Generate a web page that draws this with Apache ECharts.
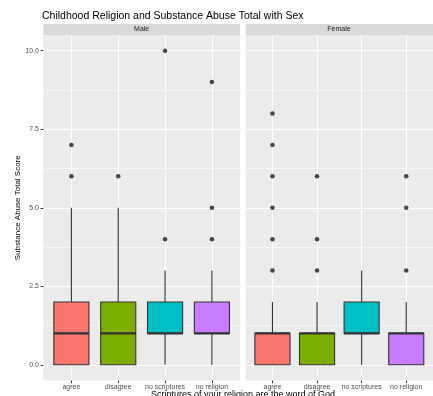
<!DOCTYPE html>
<html><head><meta charset="utf-8">
<script src="https://cdn.jsdelivr.net/npm/echarts@6/dist/echarts.min.js"></script>
<style>html,body{margin:0;padding:0;background:#fff}#c{width:433px;height:396px}</style>
</head><body><div id="c"></div>
<script>
// ---- data ----
const categories = ['agree', 'disagree', 'no scriptures', 'no religion'];
const panelNames = ['Male', 'Female'];
// [min whisker, Q1, median, Q3, max whisker]
const maleStats = [[0, 0, 1, 2, 5], [0, 0, 1, 2, 5], [0, 1, 1, 2, 3], [0, 1, 1, 2, 3]];
const femaleStats = [[0, 0, 1, 1, 2], [0, 0, 1, 1, 2], [0, 1, 1, 2, 3], [0, 0, 1, 1, 2]];
const maleOutliers = [[6, 7], [6], [4, 10], [4, 5, 9]];
const femaleOutliers = [[3, 4, 5, 6, 7, 8], [3, 4, 6], [], [3, 5, 6]];
const yTicks = [0, 2.5, 5, 7.5, 10];
const yMinorTicks = [1.25, 3.75, 6.25, 8.75];
const fills = ['#F8766D', '#7CAE00', '#00BFC4', '#C77CFF'];

const FONT = 'Liberation Sans, Arial, sans-serif';
const panelLefts = [43.3, 245.7];
const PW = 196.7, PT = 35, PH = 345.5;
const catIdx = categories.map((c, i) => i);

const statsList = [maleStats, femaleStats];
const outList = [maleOutliers, femaleOutliers];

const grid = [], xAxis = [], yAxis = [], series = [];
panelLefts.forEach((L, g) => {
  grid.push({left: L, top: PT, width: PW, height: PH, show: true, backgroundColor: '#EBEBEB', borderWidth: 0, containLabel: false});
  xAxis.push({
    type: 'value', gridIndex: g, min: -0.6, max: 3.6, position: 'bottom',
    axisLine: {show: false, onZero: false},
    axisTick: {show: true, length: 2.7, customValues: catIdx, lineStyle: {color: '#333', width: 1}},
    axisLabel: {customValues: catIdx, formatter: v => categories[v], fontSize: 7, color: '#4D4D4D', margin: 2.8, fontFamily: FONT},
    splitLine: {show: true, lineStyle: {color: '#FFFFFF', width: 1}}
  });
  xAxis.push({type: 'value', gridIndex: g, min: -0.6, max: 3.6, show: false, axisLine: {onZero: false}});
  xAxis.push({type: 'value', gridIndex: g, min: -0.6, max: 3.6, show: false, axisLine: {onZero: false}});
  yAxis.push({
    type: 'value', gridIndex: g, min: -0.5, max: 10.5, position: 'left',
    axisLine: {show: false, onZero: false},
    axisTick: {show: g === 0, length: 2.7, customValues: yTicks, lineStyle: {color: '#333', width: 1}},
    axisLabel: {show: g === 0, customValues: yTicks, formatter: v => v.toFixed(1), fontSize: 7, color: '#4D4D4D', margin: 4.3, fontFamily: FONT},
    splitLine: {show: true, lineStyle: {color: '#FFFFFF', width: 1}},
    name: g === 0 ? 'Substance Abuse Total Score' : '',
    nameLocation: 'middle', nameGap: 21.5,
    nameTextStyle: {fontSize: 8, color: '#000', fontFamily: FONT}
  });
  yAxis.push({
    type: 'value', gridIndex: g, min: -0.5, max: 10.5, position: 'right',
    axisLine: {show: false, onZero: false},
    axisTick: {show: false, customValues: yMinorTicks},
    axisLabel: {show: false, customValues: yMinorTicks},
    splitLine: {show: true, lineStyle: {color: '#FFFFFF', width: 0.5}}
  });
  const stats = statsList[g];
  const xb = g * 3, yb = g * 2;
  series.push({
    type: 'boxplot', xAxisIndex: xb, yAxisIndex: yb, boxWidth: [0, 0], silent: true, z: 2,
    data: stats.map((s, i) => [i, s[0], s[1], s[2], s[3], s[4]]),
    itemStyle: {color: 'transparent', borderColor: '#333333', borderWidth: 1.1},
    emphasis: {disabled: true}
  });
  series.push({
    type: 'boxplot', xAxisIndex: xb + 1, yAxisIndex: yb, boxWidth: [35.1, 35.1], silent: true, z: 3,
    data: stats.map((s, i) => ({value: [i, s[1], s[1], s[2], s[3], s[3]], itemStyle: {color: fills[i]}})),
    itemStyle: {borderColor: '#333333', borderWidth: 1.1},
    emphasis: {disabled: true}
  });
  series.push({
    type: 'boxplot', xAxisIndex: xb + 2, yAxisIndex: yb, boxWidth: [35.1, 35.1], silent: true, z: 4,
    data: stats.map((s, i) => [i, s[2], s[2], s[2], s[2], s[2]]),
    itemStyle: {color: 'transparent', borderColor: '#333333', borderWidth: 2.2},
    emphasis: {disabled: true}
  });
  series.push({
    type: 'scatter', xAxisIndex: xb, yAxisIndex: yb, symbolSize: 4.5, silent: true, z: 5,
    data: outList[g].flatMap((arr, i) => arr.map(v => [i, v])),
    itemStyle: {color: '#1A1A1A'}
  });
});

const chart = echarts.init(document.getElementById('c'), null, {renderer: 'canvas'});
chart.setOption({
  animation: false,
  backgroundColor: '#FFFFFF',
  title: {
    text: 'Childhood Religion and Substance Abuse Total with Sex',
    left: 42, top: 11, padding: 0,
    textStyle: {fontSize: 10.5, fontWeight: 'normal', color: '#000', fontFamily: FONT}
  },
  grid, xAxis, yAxis, series,
  graphic: [
    {type: 'rect', shape: {x: panelLefts[0], y: 24, width: PW, height: 11}, style: {fill: '#D9D9D9'}, silent: true},
    {type: 'rect', shape: {x: panelLefts[1], y: 24, width: PW, height: 11}, style: {fill: '#D9D9D9'}, silent: true},
    {type: 'text', x: panelLefts[0] + PW / 2, y: 29.5, silent: true,
      style: {text: panelNames[0], fontSize: 7, fill: '#1A1A1A', align: 'center', verticalAlign: 'middle', fontFamily: FONT}},
    {type: 'text', x: 339, y: 29.5, silent: true,
      style: {text: panelNames[1], fontSize: 7, fill: '#1A1A1A', align: 'center', verticalAlign: 'middle', fontFamily: FONT}},
    {type: 'text', x: 243, y: 390, silent: true,
      style: {text: 'Scriptures of your religion are the word of God', fontSize: 9, fill: '#000', align: 'center', verticalAlign: 'top', fontFamily: FONT}}
  ]
});
</script>
</body></html>
